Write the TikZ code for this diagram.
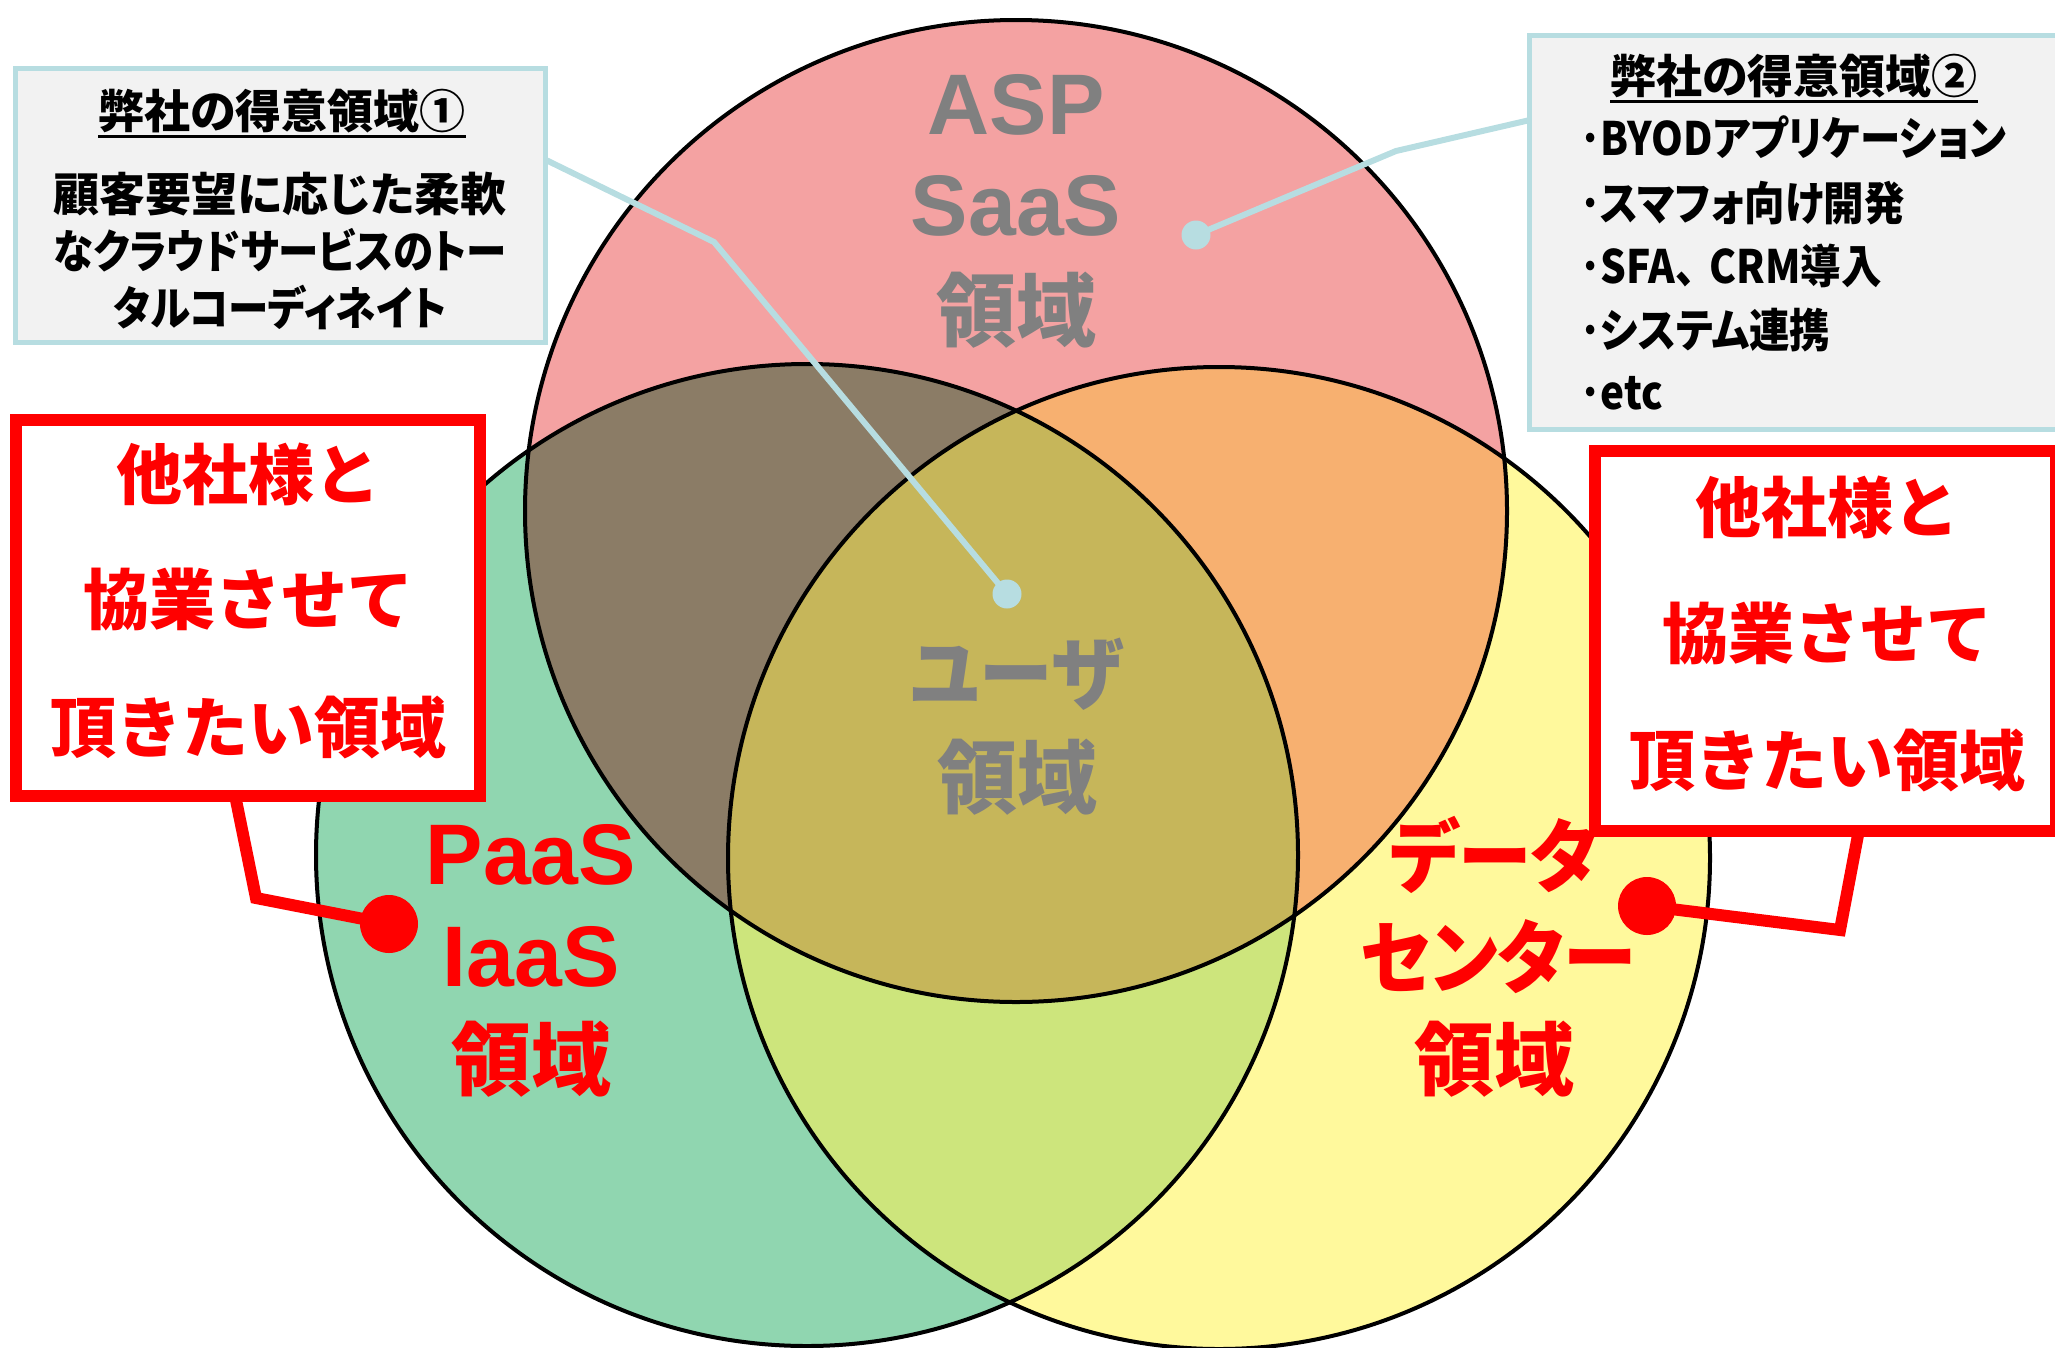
\documentclass[tikz,border=0pt]{standalone}
\usepackage{fontspec}
\newfontfamily\jp{Noto Sans CJK JP Black}[RawFeature=+palt]
\newfontfamily\jpf{Noto Sans CJK JP Black}
\newfontfamily\jpb{Noto Sans CJK JP Black}[RawFeature=+palt,FakeStretch=0.88]
\newfontfamily\jpc{Noto Sans CJK JP Black}[RawFeature=+palt,FakeStretch=0.88]
\newfontfamily\jpd{Noto Sans CJK JP Black}[RawFeature=+palt,FakeStretch=0.92]
\newfontfamily\latb{Liberation Sans Bold}
\definecolor{cR}{HTML}{F4A2A2}
\definecolor{cG}{HTML}{90D6B0}
\definecolor{cY}{HTML}{FFF99C}
\definecolor{cRG}{HTML}{8B7C66}
\definecolor{cRY}{HTML}{F7B070}
\definecolor{cGY}{HTML}{CDE57C}
\definecolor{cRGY}{HTML}{C6B65A}
\definecolor{lblue}{HTML}{B7DDE1}
\definecolor{boxgray}{HTML}{F2F2F2}
\definecolor{txtgray}{HTML}{808080}
\tikzset{
  venn/.style={draw=black, line width=4pt},
  graytxt/.style={text=txtgray, inner sep=0pt},
  redtxt/.style={text=red, inner sep=0pt},
  redbox/.style={draw=red, line width=12pt, fill=white, inner sep=0pt},
  infobox/.style={draw=lblue, line width=5pt, fill=boxgray, inner sep=0pt},
  redlink/.style={draw=red, line width=12pt},
  bluelink/.style={draw=lblue, line width=6pt},
  reddot/.style={circle, fill=red, minimum size=58pt, inner sep=0pt},
  bluedot/.style={circle, fill=lblue, minimum size=29pt, inner sep=0pt},
  boxtxt/.style={text=black, inner sep=0pt},
  bigjp/.style={font=\jp\fontsize{80}{80}\selectfont},
  bigkana/.style={font=\jpd\fontsize{80}{80}\selectfont},
  biglat/.style={font=\latb\fontsize{86}{86}\selectfont},
  redjp/.style={font=\jpf\fontsize{66}{66}\selectfont},
  box1jp/.style={font=\jp\fontsize{46}{46}\selectfont},
  box1kana/.style={font=\jpb\fontsize{46}{46}\selectfont},
  box2jp/.style={font=\jpc\fontsize{46}{46}\selectfont},
}
\begin{document}
\begin{tikzpicture}[x=1pt,y=-1pt]
\useasboundingbox (0,0) rectangle (2055,1347);
\coordinate (cr) at (1016,511);
\coordinate (cg) at (807,855);
\coordinate (cy) at (1219,858);
% fills
\fill[cR] (cr) circle[radius=491];
\fill[cG] (cg) circle[radius=491];
\fill[cY] (cy) circle[radius=491];
\begin{scope}\clip (cr) circle[radius=491]; \fill[cRG] (cg) circle[radius=491];\end{scope}
\begin{scope}\clip (cr) circle[radius=491]; \fill[cRY] (cy) circle[radius=491];\end{scope}
\begin{scope}\clip (cg) circle[radius=491]; \fill[cGY] (cy) circle[radius=491];\end{scope}
\begin{scope}\clip (cr) circle[radius=491]; \clip (cg) circle[radius=491]; \fill[cRGY] (cy) circle[radius=491];\end{scope}
\draw[venn] (cr) circle[radius=491];
\draw[venn] (cg) circle[radius=491];
\draw[venn] (cy) circle[radius=491];
% circle texts
\node[graytxt, biglat] (asp) at (1016,105) {ASP};
\node[graytxt, biglat] (saas) at (1016,206) {SaaS};
\node[graytxt, bigjp] (ry1) at (1016,310) {領域};
\node[graytxt, bigkana] (user) at (1017,674) {ユーザ};
\node[graytxt, bigjp] (ry2) at (1017,777) {領域};
\node[redtxt, biglat] (paas) at (531,855) {PaaS};
\node[redtxt, biglat] (iaas) at (531,957) {IaaS};
\node[redtxt, bigjp] (ry3) at (531,1059) {領域};
\node[redtxt, bigkana] (dc1) at (1494,855) {データ};
\node[redtxt, bigkana] (dc2) at (1498,957) {センター};
\node[redtxt, bigjp] (ry4) at (1494,1059) {領域};
% red links and boxes
\node[reddot] (ldot) at (389,924) {};
\node[reddot] (rdot) at (1647,906) {};
\coordinate (l1) at (236,800);
\coordinate (l2) at (256,898);
\coordinate (r1) at (1858,835);
\coordinate (r2) at (1840,930);
\draw[redlink] (l1) -- (l2) -- (ldot.center);
\draw[redlink] (r1) -- (r2) -- (rdot.center);
\node[redbox, minimum width=464pt, minimum height=376pt] (lbox) at (248,608) {};
\node[redbox, minimum width=461pt, minimum height=380pt] (rbox) at (1825.5,641) {};
\node[redtxt, redjp] (lt1) at (248,474) {他社様と};
\node[redtxt, redjp] (lt2) at (248,600) {協業させて};
\node[redtxt, redjp] (lt3) at (248,727) {頂きたい領域};
\node[redtxt, redjp] (rt1) at (1827,507) {他社様と};
\node[redtxt, redjp] (rt2) at (1827,634) {協業させて};
\node[redtxt, redjp] (rt3) at (1827,760) {頂きたい領域};
% blue links and info boxes
\node[bluedot] (bdot1) at (1007,594) {};
\node[bluedot] (bdot2) at (1196,235) {};
\coordinate (b1a) at (546,160);
\coordinate (b1b) at (714,242);
\coordinate (b2a) at (1530,120);
\coordinate (b2b) at (1396,151);
\draw[bluelink] (b1a) -- (b1b) -- (bdot1.center);
\draw[bluelink] (b2a) -- (b2b) -- (bdot2.center);
\node[infobox, minimum width=530pt, minimum height=274pt] (box1) at (280.5,205.5) {};
\node[infobox, minimum width=532.5pt, minimum height=394pt] (box2) at (1795.75,232.5) {};
\node[boxtxt, box1jp] (t1) at (282,111) {弊社の得意領域①};
\draw[line width=3pt] ([yshift=-8pt]t1.base west) -- ([yshift=-8pt]t1.base east);
\node[boxtxt, box1jp] (t1a) at (280,194) {顧客要望に応じた柔軟};
\node[boxtxt, box1kana] (t1b) at (280,250) {なクラウドサービスのトー};
\node[boxtxt, box1kana] (t1c) at (280,307) {タルコーディネイト};
\node[boxtxt, box1jp] (t2) at (1794,76) {弊社の得意領域②};
\draw[line width=3pt] ([yshift=-8pt]t2.base west) -- ([yshift=-8pt]t2.base east);
\node[boxtxt, box2jp, anchor=west] (i1) at (1580,138) {･BYODアプリケーション};
\node[boxtxt, box2jp, anchor=west] (i2) at (1580,203) {･スマフォ向け開発};
\node[boxtxt, box2jp, anchor=west] (i3) at (1580,266) {･SFA、\hspace{0.3em}CRM導入};
\node[boxtxt, box2jp, anchor=west] (i4) at (1580,330) {･システム連携};
\node[boxtxt, box2jp, anchor=west] (i5) at (1580,393) {･etc};
\end{tikzpicture}
\end{document}
